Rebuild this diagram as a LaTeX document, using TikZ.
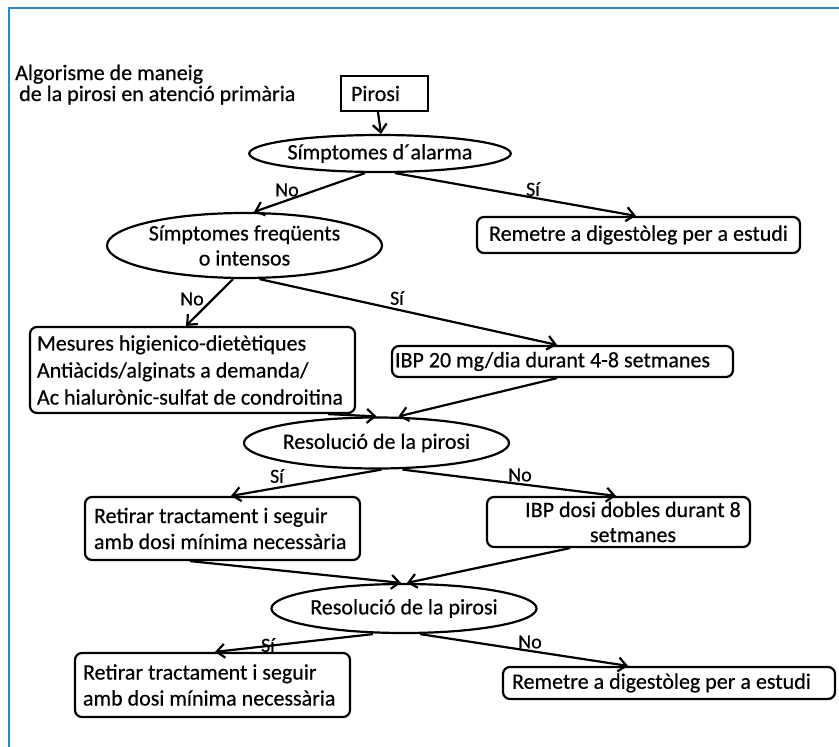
\documentclass[tikz,border=0pt]{standalone}
\usepackage{fontspec}
\setmainfont{Carlito}[FakeBold=0.5]
\usetikzlibrary{shapes.geometric,arrows.meta,calc}
\definecolor{framecol}{RGB}{46,134,193}

\tikzset{
  txt/.style={font=\fontsize{22}{26}\selectfont,
              execute at begin node={\spaceskip=0pt\xspaceskip=0pt}},
  lbl/.style={font=\fontsize{20}{24}\selectfont, inner sep=0pt},
  sqbox/.style={txt, draw, line width=2.2pt, inner ysep=0pt},
  rbox/.style={txt, draw, line width=2.2pt, rounded corners=7pt, inner ysep=0pt},
  oval/.style={txt, draw, ellipse, line width=2.2pt, inner sep=0pt, align=center},
  conn/.style={line width=2.2pt, -{Straight Barb[length=8pt,width=14pt]}},
}

\begin{document}
\begin{tikzpicture}[x=1pt, y=-1pt]
  \useasboundingbox (0,0) rectangle (839,747);

  % frame along the top and left edges
  \draw[framecol, line width=2pt] (9,747) -- (9,8) -- (839,8);

  % heading
  \node[txt, anchor=base west, inner sep=0pt] (title1) at (15,80) {Algorisme de maneig};
  \node[txt, anchor=base west, inner sep=0pt] (title2) at (19,101) {de la pirosi en atenció primària};

  % boxes
  \node[sqbox, minimum height=35pt, text width=67pt, inner xsep=10pt, align=left] (pirosi) at (384.5,93.5) {Pirosi};
  \node[rbox, minimum height=36pt, text width=305pt, inner xsep=9pt, align=center] (rem1) at (638.5,235)
    {\mbox{Remetre a digestòleg per a estudi}};
  \node[rbox, minimum height=86pt, text width=311pt, inner xsep=7pt, align=left, font=\fontsize{22}{27}\selectfont] (mes) at (192.5,370)
    {\mbox{Mesures higienico-dietètiques}\\\mbox{Antiàcids/alginats a demanda/}\\\mbox{Ac hialurònic-sulfat de condroitina}};
  \node[rbox, minimum height=31pt, text width=335pt, inner xsep=3pt, align=left] (ibp1) at (562.5,361.5)
    {\mbox{IBP 20 mg/dia durant 4-8 setmanes}};
  \node[rbox, minimum height=63pt, text width=257pt, inner xsep=9pt, align=left] (ret1) at (222.5,528.5)
    {\mbox{Retirar tractament i seguir}\\\mbox{amb dosi mínima necessària}};
  \node[rbox, minimum height=50pt, text width=255pt, inner xsep=4pt, align=center, font=\fontsize{22}{25}\selectfont] (ibp2) at (618.5,522)
    {\mbox{\hspace*{29pt}IBP dosi dobles durant 8}\\\mbox{\hspace*{29pt}setmanes}};
  \node[rbox, minimum height=64pt, text width=259pt, inner xsep=8pt, align=left] (ret2) at (212.5,685)
    {\mbox{Retirar tractament i seguir}\\\mbox{amb dosi mínima necessària}};
  \node[rbox, minimum height=32pt, text width=314pt, inner xsep=9pt, align=left] (rem2) at (669,683)
    {\mbox{Remetre a digestòleg per a estudi}};

  % decisions
  \node[oval, minimum width=234pt, minimum height=37pt] (e1) at (380,153.5) {Símptomes d´alarma};
  \node[oval, minimum width=275pt, minimum height=65pt, font=\fontsize{22}{25}\selectfont] (e2) at (244.5,245.5) {Símptomes freqüents\\o intensos};
  \node[oval, minimum width=237pt, minimum height=51pt] (e3) at (376.5,443) {Resolució de la pirosi};
  \node[oval, minimum width=238pt, minimum height=49pt] (e4) at (404,608.5) {Resolució de la pirosi};

  % connectors
  \draw[conn] ($(pirosi.south)+(-6.5,0)$) -- ($(e1.north)+(1,0)$);
  \draw[conn] ($(e1.south)+(-15,0)$) -- ($(e2.north)+(9.5,0)$);
  \draw[conn] ($(e1.south)+(15,0)$) -- ($(rem1.north)+(-2.5,0)$);
  \draw[conn] ($(e2.south)+(-11.5,0)$) -- ($(mes.north)+(-6.5,0)$);
  \draw[conn] ($(e2.south)+(15,0)$) -- ($(ibp1.north)+(-5.5,0)$);
  \draw[conn] ($(mes.south east)+(-28,0)$) -- (e3.north);
  \draw[conn] ($(ibp1.south)+(-5.5,0)$) -- ($(e3.north)+(22,0)$);
  \draw[conn] ($(e3.south)+(5,0)$) -- ($(ret1.north)+(8.5,0)$);
  \draw[conn] ($(e3.south)+(26,0)$) -- ($(ibp2.north)+(-2.5,0)$);
  \draw[conn] ($(ret1.south)+(-32.5,0)$) -- ($(e4.north)+(-3,0)$);
  \draw[conn] ($(ibp2.south)+(-48.5,0)$) -- ($(e4.north)+(3,0)$);
  \draw[conn] ($(e4.south)+(-31,0)$) -- ($(ret2.north)+(2.5,0)$);
  \draw[conn] ($(e4.south)+(16,0)$) -- ($(rem2.north)+(-41,0)$);

  % branch labels
  \node[lbl] (l1) at (287,190) {No};
  \node[lbl] (l2) at (533,189) {Sí};
  \node[lbl] (l3) at (192,299) {No};
  \node[lbl] (l4) at (397,298) {Sí};
  \node[lbl] (l5) at (277,476) {Sí};
  \node[lbl] (l6) at (520,475) {No};
  \node[lbl] (l7) at (268,645) {Sí};
  \node[lbl] (l8) at (530,642) {No};
\end{tikzpicture}
\end{document}
